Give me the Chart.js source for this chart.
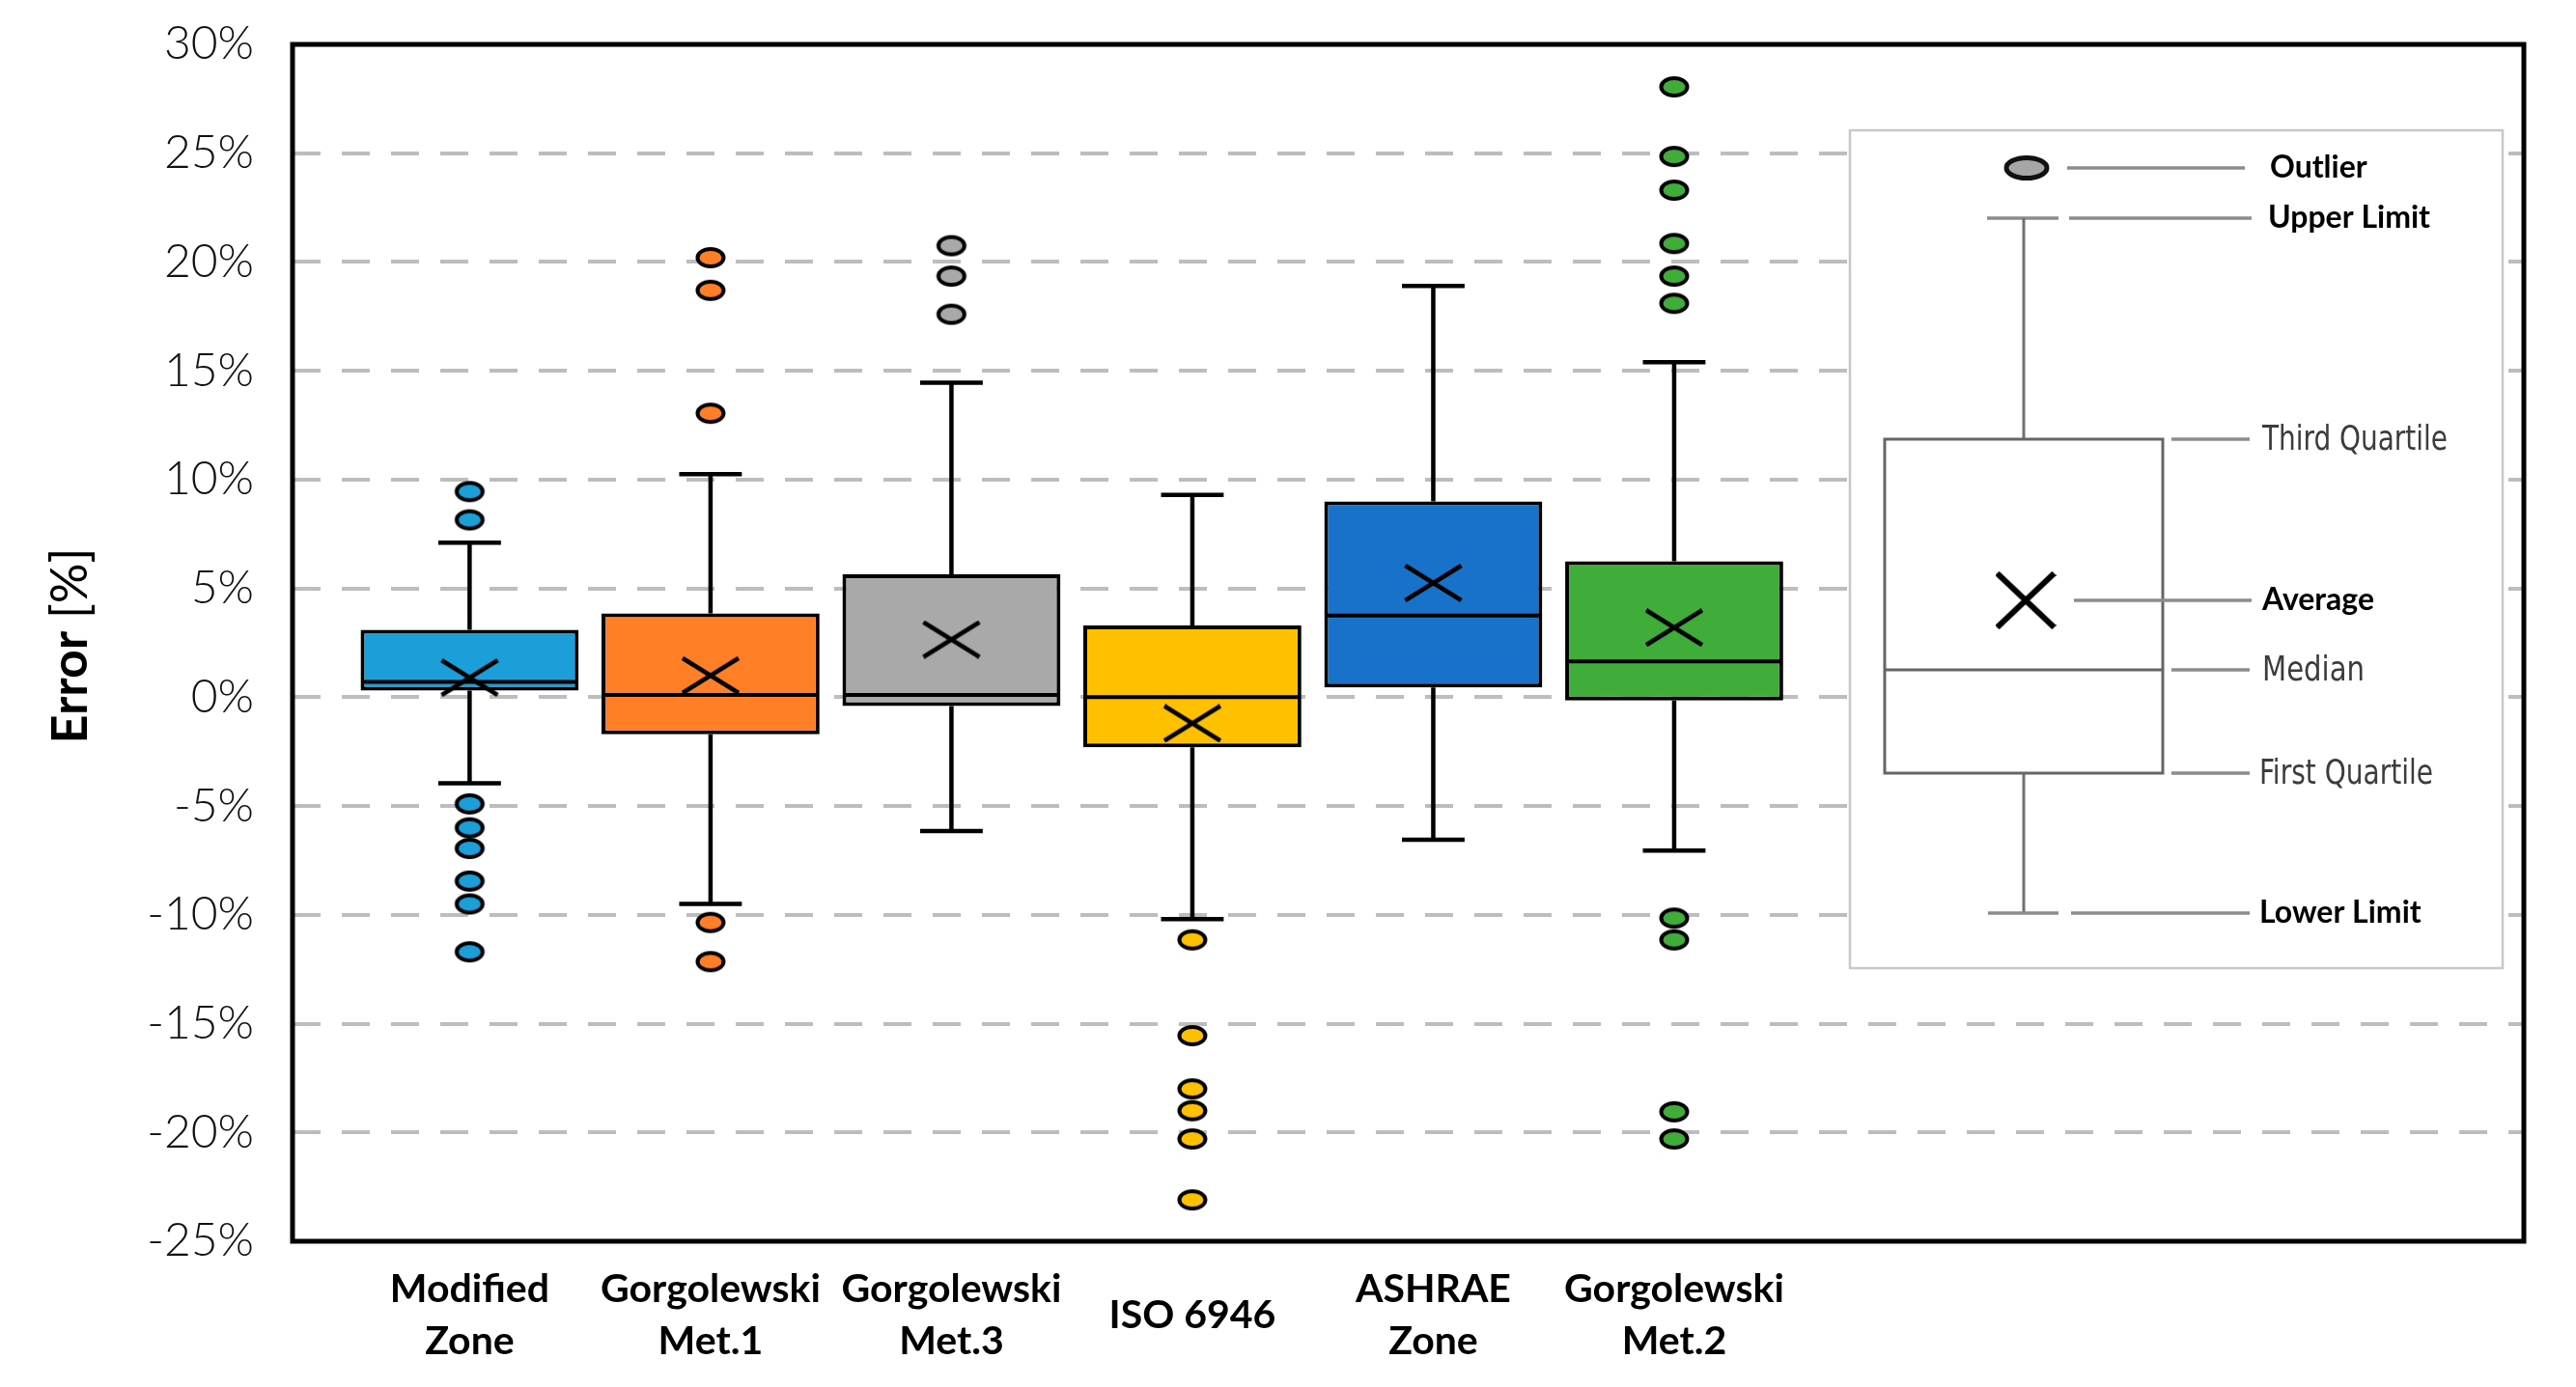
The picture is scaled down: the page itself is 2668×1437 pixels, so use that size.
<!DOCTYPE html>
<html>
<head>
<meta charset="utf-8">
<script src="https://cdn.jsdelivr.net/npm/chart.js@4.4.1/dist/chart.umd.min.js"></script>
<style>
  html, body { margin: 0; padding: 0; background: #fff; }
  canvas { display: block; }
</style>
</head>
<body>
<canvas id="chart" width="2668" height="1437" style="width:2668px;height:1437px"></canvas>
<script>
// ---- data (% error) ----
const categories = [["Modified", "Zone"], ["Gorgolewski", "Met.1"], ["Gorgolewski", "Met.3"], "ISO 6946", ["ASHRAE", "Zone"], ["Gorgolewski", "Met.2"]];
const q1 = [0.3, -1.7, -0.4, -2.3, 0.45, -0.15];
const median = [0.7, 0.1, 0.1, 0.0, 3.75, 1.65];
const q3 = [3.1, 3.85, 5.65, 3.3, 9.0, 6.25];
const mean = [0.9, 1.0, 2.65, -1.2, 5.25, 3.2];
const lowerLimit = [-3.95, -9.5, -6.15, -10.2, -6.55, -7.05];
const upperLimit = [7.1, 10.25, 14.45, 9.3, 18.9, 15.4];
const outliers = [
  [9.45, 8.15, -4.9, -6.0, -6.95, -8.45, -9.5, -11.7],
  [20.2, 18.7, 13.05, -10.35, -12.15],
  [20.75, 19.35, 17.6],
  [-11.15, -15.55, -18.0, -19.0, -20.3, -23.1],
  [],
  [28.05, 24.85, 23.3, 20.85, 19.35, 18.1, -10.15, -11.15, -19.05, -20.3]
];
const yMin = -25, yMax = 30, yStep = 5;

const boxColors = ["#1c9fd8", "#ff7f27", "#a9a9a9", "#ffc000", "#1872c9", "#40ad3a"];
const CAP_HALF = 0.13; // whisker cap half width, in category units

// marker images (the original markers are slightly wide ellipses)
function ellipseImg(fill) {
  const c = document.createElement("canvas");
  c.width = 36; c.height = 26;
  const g = c.getContext("2d");
  g.beginPath();
  g.ellipse(18, 13, 13.5, 9, 0, 0, Math.PI * 2);
  g.fillStyle = fill; g.fill();
  g.lineWidth = 4; g.strokeStyle = "#000"; g.stroke();
  return c;
}
function crossImg(w, h, lw) {
  const c = document.createElement("canvas");
  c.width = w; c.height = h;
  const g = c.getContext("2d");
  g.lineWidth = lw; g.strokeStyle = "#000";
  g.beginPath();
  g.moveTo(2, 2); g.lineTo(w - 2, h - 2);
  g.moveTo(w - 2, 2); g.lineTo(2, h - 2);
  g.stroke();
  return c;
}
const outlierImgs = boxColors.map(ellipseImg);
const meanImg = crossImg(62, 40, 4.5);

/* whiskers + median, drawn right after the boxes */
const boxPartsPlugin = {
  id: "boxParts",
  afterDatasetDraw(chart, args) {
    if (args.index !== 0) return;
    const { ctx } = chart;
    const x = chart.scales.x, y = chart.scales.y;
    const bars = chart.getDatasetMeta(0).data;
    ctx.save();
    ctx.strokeStyle = "#000";
    categories.forEach((c, i) => {
      const cx = x.getPixelForValue(i);
      const l = x.getPixelForValue(i - CAP_HALF), r = x.getPixelForValue(i + CAP_HALF);
      const yHi = y.getPixelForValue(upperLimit[i]), yLo = y.getPixelForValue(lowerLimit[i]);
      ctx.lineWidth = 4.5;
      ctx.beginPath();
      ctx.moveTo(cx, y.getPixelForValue(q3[i])); ctx.lineTo(cx, yHi);
      ctx.moveTo(cx, y.getPixelForValue(q1[i])); ctx.lineTo(cx, yLo);
      ctx.moveTo(l, yHi); ctx.lineTo(r, yHi);
      ctx.moveTo(l, yLo); ctx.lineTo(r, yLo);
      ctx.stroke();

      const bar = bars[i];
      const half = bar.width / 2;
      const ym = y.getPixelForValue(median[i]);
      ctx.lineWidth = 4;
      ctx.beginPath();
      ctx.moveTo(bar.x - half + 2, ym); ctx.lineTo(bar.x + half - 2, ym);
      ctx.stroke();
    });
    ctx.restore();
  }
};

// text squeezed to a given width (the key uses a condensed face)
function fitText(ctx, text, x, y, width) {
  const w = ctx.measureText(text).width;
  ctx.save();
  ctx.translate(x, y);
  ctx.scale(Math.min(1, width / w), 1);
  ctx.fillText(text, 0, 0);
  ctx.restore();
}

/* frame, key box, y title */
const decorPlugin = {
  id: "decor",
  afterDraw(chart) {
    const { ctx, chartArea: a } = chart;
    ctx.save();

    // key box
    ctx.fillStyle = "#fff";
    ctx.fillRect(1916, 135, 676, 868);
    ctx.strokeStyle = "#c8c8c8"; ctx.lineWidth = 2.5;
    ctx.strokeRect(1916, 135, 676, 868);

    const lead = (x1, x2, yy) => {
      ctx.strokeStyle = "#8c8c8c"; ctx.lineWidth = 3.5;
      ctx.beginPath(); ctx.moveTo(x1, yy); ctx.lineTo(x2, yy); ctx.stroke();
    };
    // outlier
    ctx.beginPath(); ctx.ellipse(2099, 174, 21, 10.5, 0, 0, Math.PI * 2);
    ctx.fillStyle = "#a6a6a6"; ctx.fill();
    ctx.strokeStyle = "#111"; ctx.lineWidth = 5; ctx.stroke();
    lead(2141, 2325, 174);
    // upper limit
    lead(2058, 2132, 226); lead(2143, 2332, 226);
    // whisker + box
    ctx.strokeStyle = "#707070"; ctx.lineWidth = 3;
    ctx.beginPath();
    ctx.moveTo(2096, 226); ctx.lineTo(2096, 455);
    ctx.moveTo(2096, 801); ctx.lineTo(2096, 946);
    ctx.stroke();
    ctx.strokeStyle = "#666"; ctx.lineWidth = 3;
    ctx.strokeRect(1952, 455, 288, 346);
    ctx.beginPath(); ctx.moveTo(1952, 694); ctx.lineTo(2240, 694); ctx.stroke();
    lead(2249, 2330, 455); lead(2249, 2330, 694); lead(2249, 2330, 801);
    // average
    ctx.drawImage(crossImg(63, 60, 6), 2098 - 31.5, 622 - 30);
    lead(2148, 2332, 622);
    // lower limit
    lead(2059, 2132, 946); lead(2145, 2330, 946);

    ctx.textBaseline = "middle"; ctx.textAlign = "left";
    ctx.fillStyle = "#000";
    ctx.font = "bold 32px Lato";
    ctx.fillText("Outlier", 2351, 174);
    ctx.fillText("Upper Limit", 2349, 226);
    ctx.fillText("Average", 2343, 622);
    ctx.fillText("Lower Limit", 2340, 946);
    ctx.fillStyle = "#3c3c3c";
    ctx.font = "36px 'Liberation Sans Narrow', 'DejaVu Sans Condensed', sans-serif";
    fitText(ctx, "Third Quartile", 2343, 457, 192);
    fitText(ctx, "Median", 2343, 696, 106);
    fitText(ctx, "First Quartile", 2340, 803, 180);

    // plot frame
    ctx.strokeStyle = "#000"; ctx.lineWidth = 5;
    ctx.strokeRect(a.left, a.top, a.right - a.left, a.bottom - a.top);

    // y title: "Error" bold + " [%]" regular, rotated
    ctx.translate(90, 669);
    ctx.rotate(-Math.PI / 2);
    ctx.fillStyle = "#000";
    ctx.textBaseline = "alphabetic";
    ctx.font = "bold 52px Lato";
    const w1 = ctx.measureText("Error ").width;
    ctx.font = "52px Lato";
    const w2 = ctx.measureText("[%]").width;
    const start = -(w1 + w2) / 2;
    ctx.font = "bold 52px Lato";
    ctx.fillText("Error ", start, 0);
    ctx.font = "52px Lato";
    ctx.fillText("[%]", start + w1, 0);
    ctx.restore();
  }
};

function build() {
  new Chart(document.getElementById("chart"), {
    type: "bar",
    data: {
      datasets: [
        {
          type: "bar",
          data: q1.map((v, i) => ({ x: i, y: [v, q3[i]] })),
          backgroundColor: boxColors,
          borderColor: "#000",
          borderWidth: 4,
          borderSkipped: false,
          categoryPercentage: 1,
          barPercentage: 0.905,
          order: 3
        },
        {
          type: "scatter",
          data: outliers.flatMap((arr, i) => arr.map(v => ({ x: i, y: v }))),
          pointStyle: (c) => outlierImgs[c.raw ? c.raw.x : 0],
          pointRadius: 12,
          order: 2
        },
        {
          type: "scatter",
          data: mean.map((v, i) => ({ x: i, y: v })),
          pointStyle: meanImg,
          pointRadius: 20,
          order: 1
        }
      ]
    },
    options: {
      responsive: false,
      devicePixelRatio: 1,
      animation: false,
      layout: { padding: { top: 46, right: 54, left: 0, bottom: 0 } },
      plugins: { legend: { display: false }, tooltip: { enabled: false } },
      scales: {
        x: {
          type: "linear",
          min: -0.735,
          max: 8.527,
          offset: false,
          grid: { display: false },
          border: { display: false },
          afterBuildTicks: (s) => { s.ticks = categories.map((c, i) => ({ value: i })); },
          afterFit: (s) => { s.height = 151; s.paddingLeft = 0; s.paddingRight = 0; },
          ticks: {
            autoSkip: false,
            maxRotation: 0,
            minRotation: 0,
            padding: 42,
            crossAlign: "center",
            color: "#000",
            font: { family: "Lato", size: 41, weight: "bold", lineHeight: 54 / 41 },
            callback: (v) => categories[v] !== undefined ? categories[v] : ""
          }
        },
        y: {
          min: yMin,
          max: yMax,
          afterFit: (s) => { s.width = 303; s.paddingTop = 0; s.paddingBottom = 0; },
          grid: { color: "#bdbdbd", lineWidth: 4, drawTicks: false },
          border: { display: false, dash: [29, 22] },
          ticks: {
            stepSize: yStep,
            padding: 40,
            color: "#111",
            font: { family: "Lato", size: 48, weight: "300" },
            callback: (v) => v + "%"
          }
        }
      }
    },
    plugins: [boxPartsPlugin, decorPlugin]
  });
}

Promise.all([
  document.fonts.load("bold 38px Lato"),
  document.fonts.load("300 48px Lato"),
  document.fonts.load("48px Lato"),
  document.fonts.load("36px 'Liberation Sans Narrow'")
]).then(build, build);
</script>
</body>
</html>
